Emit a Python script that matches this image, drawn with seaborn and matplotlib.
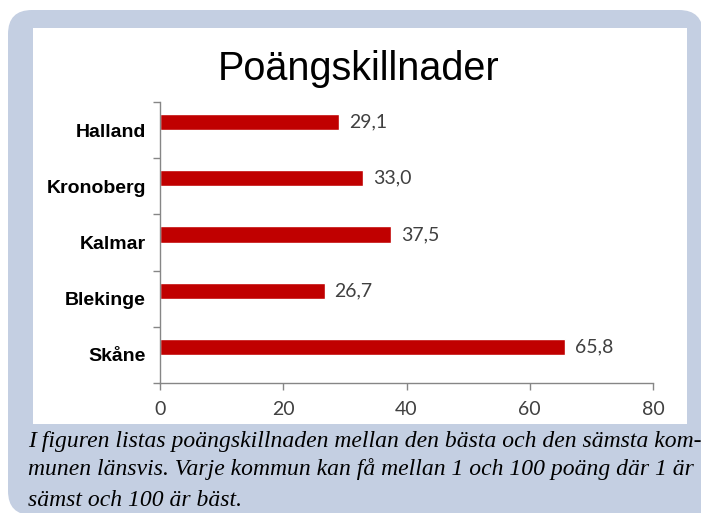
import matplotlib
matplotlib.use("Agg")
import matplotlib.pyplot as plt
import seaborn as sns
import pandas as pd
from matplotlib.patches import FancyBboxPatch, Rectangle
from matplotlib.ticker import FixedLocator
from matplotlib.transforms import ScaledTranslation

# Data
regions = ["Halland", "Kronoberg", "Kalmar", "Blekinge", "Skåne"]
values = [29.1, 33.0, 37.5, 26.7, 65.8]
value_labels = ["29,1", "33,0", "37,5", "26,7", "65,8"]
xticks = [0, 20, 40, 60, 80]
title = "Poängskillnader"
caption_lines = [
    "I figuren listas poängskillnaden mellan den bästa och den sämsta kom-",
    "munen länsvis. Varje kommun kan få mellan 1 och 100 poäng där 1 är",
    "sämst och 100 är bäst.",
]

sns.set_theme(style="white")
plt.rcParams["font.family"] = ["Liberation Sans", "DejaVu Sans"]

W, H = 701, 513
fig = plt.figure(figsize=(W / 100, H / 100), dpi=100)
fig.patch.set_facecolor("white")

panel_color = "#C4CFE2"
# blue-gray rounded panel (pixel coordinates, origin bottom-left)
panel = FancyBboxPatch((8, -2), 703 - 8, H - 10 + 2, boxstyle="round,pad=0,rounding_size=24",
                       transform=None, facecolor=panel_color, edgecolor="none", zorder=0)
fig.add_artist(panel)
fig.add_artist(Rectangle((660, -2), 60, 40, transform=None, facecolor=panel_color,
                         edgecolor="none", zorder=0))
# white chart area
white = Rectangle((33, H - 424), 687 - 33, 424 - 28, transform=None,
                  facecolor="white", edgecolor="none", zorder=0.5)
fig.add_artist(white)

ax = fig.add_axes([160 / W, 1 - 383 / H, (653 - 160) / W, (383 - 102) / H])
ax.set_facecolor("none")
ax.set_zorder(2)

df = pd.DataFrame({"region": regions, "value": values})
sns.barplot(data=df, x="value", y="region", order=regions, orient="h",
            color="#C00000", saturation=1, width=0.285, ax=ax)

# Excel-style: bars sit slightly above the category centre
bar_shift = ScaledTranslation(0, 8 / 100, fig.dpi_scale_trans)
for p in ax.patches:
    p.set_transform(ax.transData + bar_shift)

ax.set_xlim(0, 80)
ax.set_ylim(4.5, -0.5)
ax.set_xticks(xticks)
ax.set_xticklabels([str(t) for t in xticks], fontfamily="Lato", fontsize=14,
                   color="#404040")
ax.set_yticks(range(len(regions)))
ax.set_yticklabels(regions, fontweight="bold", fontsize=14, color="black")
ax.yaxis.set_minor_locator(FixedLocator([i - 0.5 for i in range(len(regions) + 1)]))
ax.tick_params(axis="y", which="major", left=True, length=0, pad=10)
ax.tick_params(axis="y", which="minor", left=True, length=5, width=1, color="#868686", direction="out")
ax.tick_params(axis="x", which="major", bottom=True, length=5, width=1, color="#868686",
               direction="out", pad=8)
ax.set_xlabel("")
ax.set_ylabel("")
for s in ["top", "right"]:
    ax.spines[s].set_visible(False)
for s in ["left", "bottom"]:
    ax.spines[s].set_color("#868686")
    ax.spines[s].set_linewidth(1)
ax.grid(False)

for i, (v, lab) in enumerate(zip(values, value_labels)):
    ax.annotate(lab, xy=(v, i), xytext=(10, 8), textcoords="offset pixels",
                ha="left", va="center", fontfamily="Lato", fontsize=14, color="#404040")

fig.text(359 / W, 1 - 69 / H, title, ha="center", va="center", fontsize=28.5, color="black")

cap_y = [441, 469, 500]
for line, y in zip(caption_lines, cap_y):
    fig.text(28 / W, 1 - y / H, line, ha="left", va="center", fontfamily="Liberation Serif",
             fontstyle="italic", fontsize=17, color="black")

fig.savefig("out.png", dpi=100, facecolor="white")
